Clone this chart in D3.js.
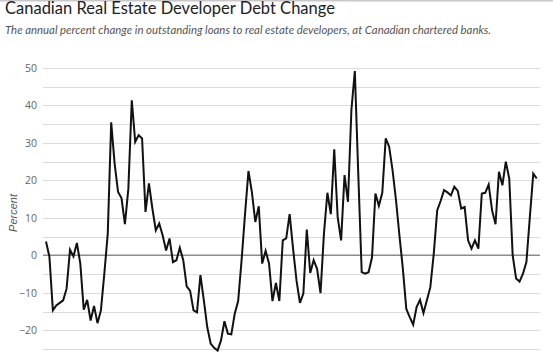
<!DOCTYPE html>
<html><head><meta charset="utf-8">
<script src="https://cdn.jsdelivr.net/npm/d3@7"></script>
<style>
html,body{margin:0;padding:0;background:#fff;}
svg{display:block;}
</style></head>
<body>
<script>
const title = "Canadian Real Estate Developer Debt Change";
const subtitle = "The annual percent change in outstanding loans to real estate developers, at Canadian chartered banks.";
const yLabel = "Percent";
const yTicks = [-20, -10, 0, 10, 20, 30, 40, 50];
const yGrid = [-25, -20, -15, -10, -5, 0, 5, 10, 15, 20, 25, 30, 35, 40, 45, 50];
const values = [
 3.7, -0.4, -14.7, -13.4, -12.7, -12.0, -8.9, 1.5, -0.3, 3.3,
 -2.2, -14.5, -11.9, -17.4, -13.5, -18.1, -14.7, -4.9, 5.8, 35.5,
 24.5, 16.9, 15.3, 8.3, 17.8, 41.4, 30.3, 32.1, 31.2, 11.6,
 19.2, 12.5, 6.7, 8.5, 5.3, 1.3, 4.5, -1.8, -1.3, 2.0,
 -1.3, -8.3, -9.5, -14.7, -15.2, -5.3, -12.0, -19.2, -23.6, -24.7,
 -25.4, -22.7, -17.6, -20.9, -21.1, -15.6, -12.2, -1.3, 11.0, 22.5,
 16.9, 8.9, 13.1, -2.2, 1.2, -2.2, -12.2, -7.4, -12.2, 4.0,
 4.5, 11.0, 1.8, -6.7, -12.7, -10.2, 6.9, -4.7, -1.3, -3.6,
 -10.1, 5.8, 16.7, 11.0, 28.3, 10.2, 4.0, 21.4, 14.3, 38.8,
 49.2, 21.8, -4.5, -4.9, -4.5, -0.6, 16.5, 13.2, 16.7, 31.2,
 29.0, 22.7, 14.7, 5.3, -3.6, -14.3, -16.5, -18.5, -13.8, -11.9,
 -15.4, -12.0, -8.5, 0.4, 12.0, 14.5, 17.4, 16.8, 16.0, 18.3,
 17.2, 12.5, 12.9, 4.0, 1.8, 4.0, 1.8, 16.5, 16.7, 18.9,
 12.0, 8.3, 22.3, 18.7, 25.0, 20.5, 0.0, -6.2, -7.0, -4.9,
 -1.8, 10.2, 21.8, 20.5
];

const W = 553, H = 355;
const svg = d3.select("body").append("svg").attr("width", W).attr("height", H);

// top border line
svg.append("rect").attr("x",0).attr("y",0).attr("width",W).attr("height",1.5).attr("fill","#c8c8c8");

function fitText(sel, target){
  const len = sel.node().getComputedTextLength();
  const fs = parseFloat(sel.attr("font-size"));
  sel.attr("font-size", (fs*target/len).toFixed(2));
}

const t = svg.append("text").attr("x",5).attr("y",13.5)
  .attr("font-family","Lato, sans-serif").attr("font-size",18).attr("fill","#222")
  .text(title);
fitText(t, 330);
const st = svg.append("text").attr("x",5).attr("y",33.5)
  .attr("font-family","Lato, sans-serif").attr("font-style","italic").attr("font-size",12.5).attr("fill","#555")
  .text(subtitle);
fitText(st, 486);

const x = d3.scaleLinear().domain([0, values.length-1]).range([46, 536.7]);
const y = d3.scaleLinear().domain([-25, 50]).range([349, 68]);
const gridX0 = 43, gridX1 = 540;

svg.append("g").selectAll("line").data(yGrid.filter(d=>d!==0)).join("line")
  .attr("x1",gridX0).attr("x2",gridX1)
  .attr("y1",d=>Math.round(y(d))+0.5).attr("y2",d=>Math.round(y(d))+0.5)
  .attr("stroke","#dcdcdc").attr("stroke-width",1);

svg.append("line").attr("x1",gridX0).attr("x2",gridX1)
  .attr("y1",y(0)).attr("y2",y(0)).attr("stroke","#8c8c8c").attr("stroke-width",1.5);

const axis = d3.axisLeft(y).tickValues(yTicks).tickSize(0).tickPadding(0).tickFormat(d3.format("d"));
const ga = svg.append("g").attr("transform","translate(37,0)").call(axis);
ga.select(".domain").remove();
ga.selectAll("text").attr("font-family","'Open Sans', Arial, sans-serif").attr("font-size",10.5).attr("fill","#666");

svg.append("text")
  .attr("transform","translate(17,213) rotate(-90)")
  .attr("text-anchor","middle")
  .attr("font-family","Arial, 'Liberation Sans', sans-serif").attr("font-style","italic").attr("font-size",11).attr("fill","#555")
  .text(yLabel);

const line = d3.line().x((d,i)=>x(i)).y(d=>y(d)).curve(d3.curveLinear);
svg.append("path").datum(values).attr("d",line)
  .attr("fill","none").attr("stroke","#111").attr("stroke-width",2).attr("stroke-linejoin","miter");
</script>
</body></html>
